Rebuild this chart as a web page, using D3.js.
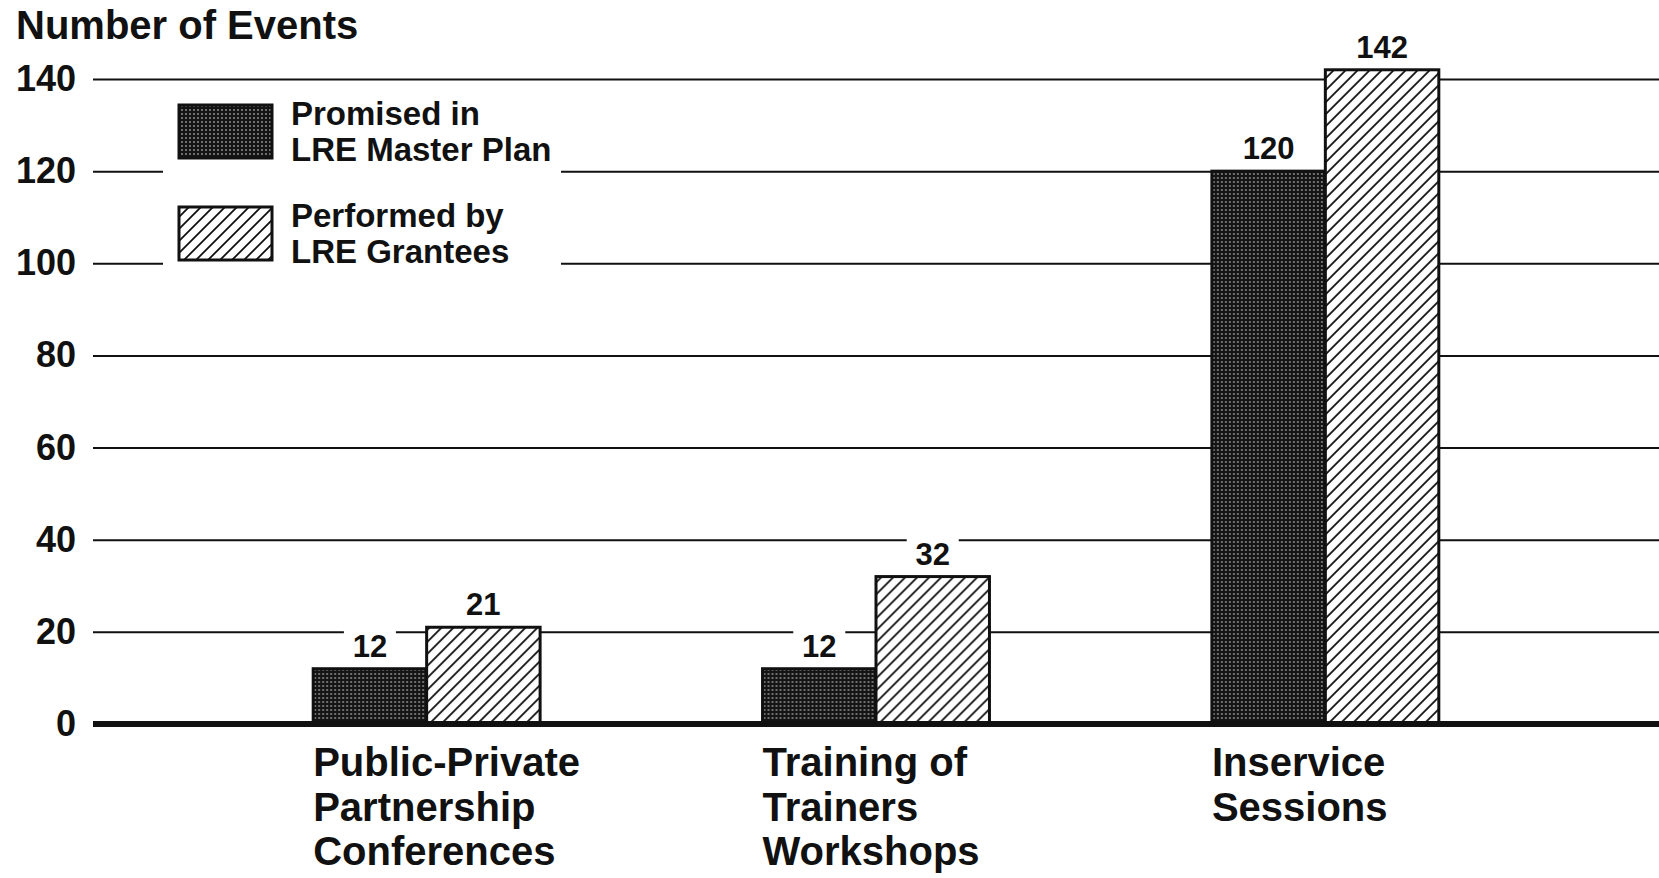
<!DOCTYPE html>
<html>
<head>
<meta charset="utf-8">
<script src="https://cdn.jsdelivr.net/npm/d3@7"></script>
<style>
  body { margin: 0; background: #fff; }
  text { font-family: "Liberation Sans", Arial, Helvetica, sans-serif; fill: #111; }
</style>
</head>
<body>
<div id="chart"></div>
<script>
const categories = ["Public-Private Partnership Conferences", "Training of Trainers Workshops", "Inservice Sessions"];
const categoryLines = [["Public-Private", "Partnership", "Conferences"], ["Training of", "Trainers", "Workshops"], ["Inservice", "Sessions"]];
const series = ["Promised in LRE Master Plan", "Performed by LRE Grantees"];
const legendLines = [["Promised in", "LRE Master Plan"], ["Performed by", "LRE Grantees"]];
const promised = [12, 12, 120];
const performed = [21, 32, 142];
const yTicks = [0, 20, 40, 60, 80, 100, 120, 140];

const width = 1659;
const height = 878;

const svg = d3.select("#chart").append("svg")
    .attr("width", width)
    .attr("height", height)
    .style("display", "block");

svg.append("rect").attr("width", width).attr("height", height).attr("fill", "#fff");

const defs = svg.append("defs");

// stippled dark fill
const dots = defs.append("pattern")
    .attr("id", "dots")
    .attr("patternUnits", "userSpaceOnUse")
    .attr("width", 4).attr("height", 4);
dots.append("rect").attr("width", 4).attr("height", 4).attr("fill", "#141414");
dots.append("circle").attr("cx", 2).attr("cy", 2).attr("r", 0.9).attr("fill", "#9a9a9a");

// diagonal hatch
const hatch = defs.append("pattern")
    .attr("id", "hatch")
    .attr("patternUnits", "userSpaceOnUse")
    .attr("width", 12).attr("height", 12);
hatch.append("rect").attr("width", 12).attr("height", 12).attr("fill", "#fff");
hatch.append("path")
    .attr("d", "M0,12 L12,0 M-3,3 L3,-3 M9,15 L15,9")
    .attr("stroke", "#111").attr("stroke-width", 1.8);

const fills = ["url(#dots)", "url(#hatch)"];

const x0 = d3.scaleBand()
    .domain(categories)
    .range([93, 1659])
    .paddingInner(0.495)
    .paddingOuter(0.49);

const x1 = d3.scaleBand()
    .domain(series)
    .range([0, x0.bandwidth()]);

const y = d3.scaleLinear()
    .domain([0, 140])
    .range([724, 79]);

// gridlines
const grid = svg.append("g")
    .attr("transform", "translate(93,0)")
    .call(d3.axisRight(y).tickValues(yTicks.filter(v => v > 0)).tickSize(width - 93).tickFormat(""));
grid.select(".domain").remove();
grid.selectAll("line").attr("stroke", "#111").attr("stroke-width", 2);

// y tick labels
const yAxis = svg.append("g")
    .attr("transform", "translate(93,0)")
    .call(d3.axisLeft(y).tickValues(yTicks).tickSize(0).tickPadding(17));
yAxis.select(".domain").remove();
yAxis.selectAll("text")
    .attr("fill", "#111")
    .style("font-family", '"Liberation Sans", Arial, sans-serif')
    .style("font-size", "36px")
    .style("font-weight", "bold");

svg.append("text")
    .attr("x", 16).attr("y", 39)
    .style("font-size", "40px")
    .style("font-weight", "bold")
    .text("Number of Events");

// legend
svg.append("rect")
    .attr("x", 163).attr("y", 95).attr("width", 398).attr("height", 178)
    .attr("fill", "#fff");

const legendY = [105, 207];
const legend = svg.append("g").selectAll("g")
    .data(series)
    .enter().append("g");

legend.append("rect")
    .attr("x", 179)
    .attr("y", (d, i) => legendY[i])
    .attr("width", 93)
    .attr("height", 53)
    .attr("fill", (d, i) => fills[i])
    .attr("stroke", "#111")
    .attr("stroke-width", 3);

legend.each(function(d, i) {
    d3.select(this).selectAll("text.leg")
        .data(legendLines[i])
        .enter().append("text")
        .attr("class", "leg")
        .attr("x", 291)
        .attr("y", (t, j) => legendY[i] + 20 + j * 36)
        .style("font-size", "33px")
        .style("font-weight", "bold")
        .text(t => t);
});

// bars
const rows = categories.map((c, i) => ({ cat: c, values: [promised[i], performed[i]] }));

const groups = svg.append("g").selectAll("g")
    .data(rows)
    .enter().append("g")
    .attr("transform", d => `translate(${x0(d.cat)},0)`);

const cells = groups.selectAll("g")
    .data(d => d.values.map((v, i) => ({ key: series[i], value: v, i: i })))
    .enter().append("g");

// value labels with white knockout behind them
cells.append("rect")
    .attr("x", d => x1(d.key) + x1.bandwidth() / 2 - 26)
    .attr("y", d => y(d.value) - 40)
    .attr("width", 52)
    .attr("height", 32)
    .attr("fill", "#fff");

cells.append("text")
    .attr("x", d => x1(d.key) + x1.bandwidth() / 2)
    .attr("y", d => y(d.value) - 12)
    .attr("text-anchor", "middle")
    .style("font-size", "31px")
    .style("font-weight", "bold")
    .text(d => d.value);

cells.append("rect")
    .attr("x", d => x1(d.key))
    .attr("y", d => y(d.value))
    .attr("width", x1.bandwidth())
    .attr("height", d => y(0) - y(d.value))
    .attr("fill", d => fills[d.i])
    .attr("stroke", "#111")
    .attr("stroke-width", 3);

// zero line
svg.append("line")
    .attr("x1", 93).attr("x2", width)
    .attr("y1", y(0)).attr("y2", y(0))
    .attr("stroke", "#111")
    .attr("stroke-width", 6);

// category labels
groups.each(function(d, i) {
    d3.select(this).selectAll("text.cat")
        .data(categoryLines[i])
        .enter().append("text")
        .attr("class", "cat")
        .attr("x", 0)
        .attr("y", (t, j) => 776 + j * 44.5)
        .style("font-size", "40px")
        .style("font-weight", "bold")
        .text(t => t);
});
</script>
</body>
</html>
